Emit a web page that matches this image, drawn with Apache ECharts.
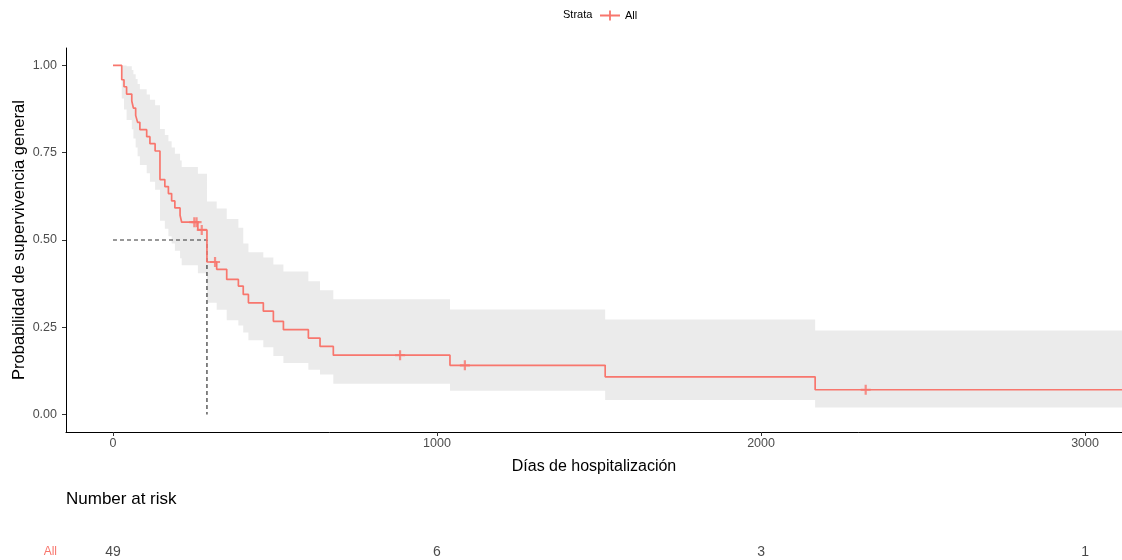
<!DOCTYPE html>
<html>
<head>
<meta charset="utf-8">
<script src="https://cdn.jsdelivr.net/npm/echarts@6/dist/echarts.min.js"></script>
<style>html,body{margin:0;padding:0;background:#fff}#c{width:1122px;height:560px}</style>
</head>
<body>
<div id="c"></div>
<script>
// Kaplan-Meier step data (days, survival)
const times = [0, 27, 34, 42, 58, 63, 70, 76, 83, 104, 114, 130, 145, 160, 171, 181, 191, 207, 212, 262, 290, 320, 351, 387, 402, 418, 464, 495, 526, 603, 639, 680, 1040, 1519, 2167];
const surv  = [1, .959, .939, .918, .898, .878, .857, .837, .816, .796, .776, .755, .673, .653, .633, .612, .592, .571, .551, .529, .437, .416, .387, .368, .344, .320, .296, .267, .243, .219, .195, .170, .141, .108, .071];
const upper = [1, 1, 1, .998, .987, .975, .961, .947, .932, .917, .902, .886, .818, .801, .783, .765, .747, .728, .709, .69, .61, .59, .56, .535, .49, .465, .45, .43, .41, .382, .356, .330, .301, .272, .241];
const lower = [1, .905, .874, .844, .817, .791, .765, .740, .715, .691, .667, .644, .555, .532, .511, .490, .469, .448, .428, .405, .32, .30, .27, .255, .235, .213, .193, .168, .148, .128, .115, .088, .068, .042, .020];
const lastTime = 3114;
// censored observations
const censorTimes = [251, 258, 274, 315, 886, 1086, 2323];
const censorSurv  = [.551, .551, .529, .437, .170, .141, .071];
// median
const medianTime = 290;
const medianSurv = 0.5;
// risk table
const riskTimes  = [0, 1000, 2000, 3000];
const riskCounts = [49, 6, 3, 1];
const strata = ['All'];
const xTicks = [0, 1000, 2000, 3000];
const yTicks = [0, 0.25, 0.5, 0.75, 1];

const RED = '#F8766D';
const FONT = 'Liberation Sans, Arial, sans-serif';
const xMin = -145, xMax = 3114;

const lineData = times.map((t, i) => [t, surv[i]]);
lineData.push([lastTime, surv[surv.length - 1]]);

const chart = echarts.init(document.getElementById('c'));
chart.setOption({
  animation: false,
  textStyle: { fontFamily: FONT },
  graphic: [
    { type: 'text', left: 563, top: 9, style: { text: 'Strata', fontSize: 11, fill: '#000', fontFamily: FONT } }
  ],
  title: {
    text: 'Number at risk', left: 61, top: 486,
    textStyle: { fontSize: 17, fontWeight: 'normal', color: '#000', fontFamily: FONT }
  },
  legend: {
    data: ['All'], left: 595, top: 5, itemWidth: 20, itemHeight: 10, itemGap: 6,
    icon: 'path://M0,4.1 L20,4.1 L20,5.9 L0,5.9 Z M9.1,0 L10.9,0 L10.9,10 L9.1,10 Z',
    textStyle: { fontSize: 11, color: '#000', fontFamily: FONT }
  },
  grid: [
    { left: 66, right: 0, top: 48, height: 384, outerBoundsMode: 'none', containLabel: false },
    { left: 66, right: 0, top: 539, height: 26, outerBoundsMode: 'none', containLabel: false }
  ],
  xAxis: [
    {
      type: 'value', gridIndex: 0, min: xMin, max: xMax,
      name: 'Días de hospitalización', nameLocation: 'middle', nameGap: 27,
      nameTextStyle: { fontSize: 16, color: '#000', fontFamily: FONT },
      axisLine: { show: true, onZero: false, lineStyle: { color: '#000', width: 1 } },
      axisTick: { show: true, length: 4, customValues: xTicks, lineStyle: { color: '#333' } },
      axisLabel: { customValues: xTicks, fontSize: 12.5, color: '#4D4D4D', margin: 5,
                   formatter: v => String(v) },
      splitLine: { show: false }
    },
    {
      type: 'value', gridIndex: 1, min: xMin, max: xMax, show: false
    }
  ],
  yAxis: [
    {
      type: 'value', gridIndex: 0, min: -0.05, max: 1.05,
      name: 'Probabilidad de supervivencia general', nameLocation: 'middle', nameGap: 38,
      nameRotate: 90, nameMoveOverlap: false,
      nameTextStyle: { fontSize: 16.5, color: '#000', fontFamily: FONT },
      axisLine: { show: true, onZero: false, lineStyle: { color: '#000', width: 1 } },
      axisTick: { show: true, length: 4, customValues: yTicks, lineStyle: { color: '#333' } },
      axisLabel: { customValues: yTicks, fontSize: 12.5, color: '#4D4D4D', margin: 9,
                   formatter: v => v.toFixed(2) },
      splitLine: { show: false }
    },
    {
      type: 'category', gridIndex: 1, data: strata,
      axisLine: { show: false }, axisTick: { show: false },
      axisLabel: { color: RED, fontSize: 12, margin: 9 }
    }
  ],
  series: [
    {
      type: 'custom', name: 'ci', xAxisIndex: 0, yAxisIndex: 0, z: 1, silent: true,
      data: [0],
      renderItem: function (params, api) {
        const pts = [];
        const n = times.length;
        for (let i = 0; i < n; i++) {
          const t1 = i < n - 1 ? times[i + 1] : lastTime;
          pts.push(api.coord([times[i], upper[i]]));
          pts.push(api.coord([t1, upper[i]]));
        }
        for (let i = n - 1; i >= 0; i--) {
          const t1 = i < n - 1 ? times[i + 1] : lastTime;
          pts.push(api.coord([t1, lower[i]]));
          pts.push(api.coord([times[i], lower[i]]));
        }
        return { type: 'polygon', shape: { points: pts }, style: { fill: '#EBEBEB' } };
      }
    },
    {
      type: 'line', name: 'median', xAxisIndex: 0, yAxisIndex: 0, z: 2, silent: true,
      data: [[0, medianSurv], [medianTime, medianSurv], [medianTime, 0]],
      symbol: 'none',
      lineStyle: { color: '#333', width: 1.2, type: [4, 3] }
    },
    {
      type: 'line', name: 'All', xAxisIndex: 0, yAxisIndex: 0, z: 3,
      data: lineData, step: 'end', symbol: 'none',
      color: RED,
      lineStyle: { color: RED, width: 1.7 }
    },
    {
      type: 'scatter', name: 'censor', xAxisIndex: 0, yAxisIndex: 0, z: 4, silent: true,
      data: censorTimes.map((t, i) => [t, censorSurv[i]]),
      symbol: 'path://M0,3.9 L10,3.9 L10,6.1 L0,6.1 Z M3.9,0 L6.1,0 L6.1,10 L3.9,10 Z',
      symbolSize: 10,
      itemStyle: { color: RED }
    },
    {
      type: 'scatter', name: 'risk', xAxisIndex: 1, yAxisIndex: 1, silent: true,
      data: riskTimes.map((t, i) => [t, strata[0], riskCounts[i]]),
      symbolSize: 0,
      label: { show: true, position: 'inside', formatter: p => String(p.value[2]),
               fontSize: 14, color: '#1a1a1a', fontFamily: FONT }
    }
  ]
});
</script>
</body>
</html>
